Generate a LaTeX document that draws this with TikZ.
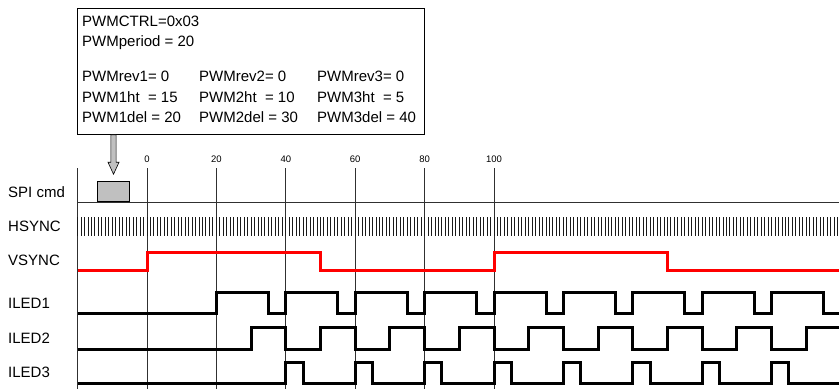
\documentclass[tikz,border=0pt]{standalone}
\usepackage{fontspec}
\setmainfont{Liberation Sans}
\usetikzlibrary{arrows.meta,positioning,calc}
\definecolor{SigRed}{HTML}{FF0000}
\definecolor{CmdGray}{HTML}{C0C0C0}
\definecolor{GridLine}{HTML}{303030}

\begin{document}
\begin{tikzpicture}[x=1pt,y=-1pt]
    \tikzset{lbl/.style={anchor=west,inner sep=0pt,font=\fontsize{15}{17}\selectfont},
      tck/.style={inner sep=0pt,font=\fontsize{9.5}{10}\selectfont},
      gridln/.style={draw=GridLine,line width=0.8pt},
      hs/.style={draw=black!90,line width=1pt},
      wave/.style={line width=3pt,line join=miter},
      vs/.style={wave,draw=SigRed}}
    \useasboundingbox (0,0) rectangle (839,389);
    % register settings
    \node[draw,line width=0.8pt,minimum width=347pt,minimum height=126pt,anchor=north west,inner sep=0pt] (cfgbox) at (77,8) {};
    \node[lbl] (ctrl) at (82,21) {PWMCTRL=0x03};
    \node[lbl] (period) at (82,43) {PWMperiod = 20};
    \node[lbl] (rev1) at (82,76) {PWMrev1= 0};
    \node[lbl] (rev2) at (199,76) {PWMrev2= 0};
    \node[lbl] (rev3) at (317,76) {PWMrev3= 0};
    \node[lbl] (ht1) at (82,97) {PWM1ht\ \ = 15};
    \node[lbl] (ht2) at (199,97) {PWM2ht\ \ = 10};
    \node[lbl] (ht3) at (317,97) {PWM3ht\ \ = 5};
    \node[lbl] (del1) at (82,117) {PWM1del = 20};
    \node[lbl] (del2) at (199,117) {PWM2del = 30};
    \node[lbl] (del3) at (317,117) {PWM3del = 40};
    % signal names
    \node[lbl] (nspi) at (8,192) {SPI cmd};
    \node[lbl] (nhs) at (8,226) {HSYNC};
    \node[lbl] (nvs) at (8,260) {VSYNC};
    \node[lbl] (nled1) at (8,303) {ILED1};
    \node[lbl] (nled2) at (8,338) {ILED2};
    \node[lbl] (nled3) at (8,372) {ILED3};
    \begin{scope}[xshift=147pt,x=3.47pt]
      % time grid
      \draw[gridln] (-20,168) -- (-20,389);
      \foreach \t in {0,20,...,100} {
        \node[tck] (t\t) at (\t,159) {\t};
        \draw[gridln] (\t,168) -- (\t,389);
      }
      % spi command
      \draw[gridln] (-20,202) -- (200,202);
      \node[draw,fill=CmdGray,line width=0.8pt,minimum width=31.6pt,minimum height=20pt,inner sep=0pt,anchor=south] (spi) at (-9.65,202) {};
      \coordinate (arrtip) at ($(spi.north)+(0,-7)$);
      \coordinate (arrtop) at (arrtip |- cfgbox.south);
      \filldraw[fill=CmdGray,draw=black,line width=0.6pt]
        ($(arrtop)+(-0.75,0)$) -- ($(arrtip)+(-0.75,-12)$) -- ($(arrtip)+(-1.6,-12)$) -- (arrtip)
        -- ($(arrtip)+(1.6,-12)$) -- ($(arrtip)+(0.75,-12)$) -- ($(arrtop)+(0.75,0)$) -- cycle;
      % hsync
      \foreach \t in {-20,...,200}
        \draw[hs] (\t,217) -- (\t,236);
      % vsync
      \draw[vs] (-20,270) -| (0,252) -| (50,270) -| (100,252) -| (150,270) -- (200,270);
      % led outputs
      \draw[wave] (-20,313) \foreach \k in {0,...,8} {
        -- ({20+20*\k},313) -- ({20+20*\k},292) -- ({35+20*\k},292) -- ({35+20*\k},313)} -- (200,313);
      \draw[wave] (-20,349) \foreach \k in {0,...,8} {
        -- ({30+20*\k},349) -- ({30+20*\k},327) -- ({40+20*\k},327) -- ({40+20*\k},349)};
      \draw[wave] (-20,383) \foreach \k in {0,...,7} {
        -- ({40+20*\k},383) -- ({40+20*\k},362) -- ({45+20*\k},362) -- ({45+20*\k},383)} -- (200,383);
    \end{scope}
\end{tikzpicture}
\end{document}
